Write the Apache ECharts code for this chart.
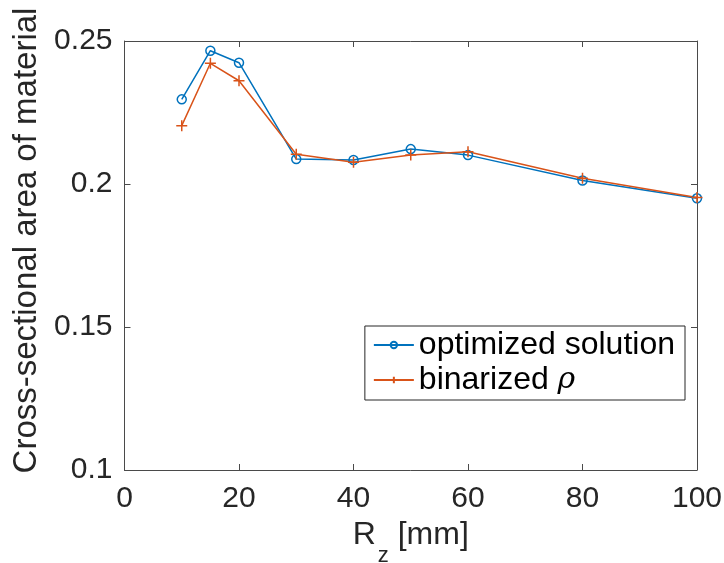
<!DOCTYPE html>
<html><head><meta charset="utf-8">
<script src="https://cdn.jsdelivr.net/npm/echarts@6/dist/echarts.min.js"></script>
<style>html,body{margin:0;padding:0;background:#fff}#c{width:724px;height:563px}</style>
</head><body><div id="c"></div>
<script>
var rz = [10, 15, 20, 30, 40, 50, 60, 80, 100];
var optimized = [0.2296, 0.2466, 0.2424, 0.2087, 0.2084, 0.2122, 0.2101, 0.2012, 0.1950];
var binarized = [0.2204, 0.2422, 0.2361, 0.2104, 0.2076, 0.2101, 0.2113, 0.2020, 0.1953];
var xTicks = [0, 20, 40, 60, 80, 100];
var yTicks = [0.1, 0.15, 0.2, 0.25];

var FONT = '"Liberation Sans", Arial, sans-serif';
var AX = '#262626';
var AXL = '#4a4a4a';
var BLUE = '#0072BD', ORANGE = '#D95319';
var plus = 'path://M0,5L10,5M5,0L5,10';
function pairs(xs, ys){ return xs.map(function(x,i){ return [x, ys[i]]; }); }

var chart = echarts.init(document.getElementById('c'), null, {renderer:'canvas'});
var axisBase = {
  axisLine:{show:true, onZero:false, lineStyle:{color:AXL, width:1}},
  axisTick:{show:true, inside:true, length:6, lineStyle:{color:AXL, width:1}},
  splitLine:{show:false}
};
chart.setOption({
  animation:false,
  backgroundColor:'#fff',
  grid:{left:124.5, right:27, top:41, bottom:93, containLabel:false, outerBoundsMode:'none'},
  legend:{
    show:true, right:39, top:326, orient:'vertical',
    backgroundColor:'#fff', borderColor:AX, borderWidth:1, padding:[3,10,4,8],
    itemWidth:40, itemHeight:8, itemGap:3,
    data:['optimized solution', 'binarized ρ'],
    formatter:function(n){ return n === 'binarized ρ' ? 'binarized {r|ρ}' : n; },
    textStyle:{fontFamily:FONT, fontSize:32, color:'#000', padding:[0,0,0,0],
      rich:{r:{fontFamily:'"DejaVu Serif", serif', fontStyle:'italic', fontSize:30, color:'#000'}}}
  },
  xAxis:[
    Object.assign({}, axisBase, {
      type:'value', position:'bottom', min:0, max:100, interval:20,
      axisLabel:{show:true, color:AX, fontFamily:FONT, fontSize:30, margin:14,
        formatter:function(v){ return xTicks.indexOf(v) >= 0 ? String(v) : ''; }},
      name:'R{s|z} [mm]', nameLocation:'middle', nameGap:30,
      nameTextStyle:{color:AX, fontFamily:FONT, fontSize:32, verticalAlign:'top',
        rich:{s:{fontFamily:FONT, fontSize:22, color:AX, padding:[42,0,0,2]}}}
    }),
    Object.assign({}, axisBase, {
      type:'value', position:'top', min:0, max:100, interval:20,
      axisLabel:{show:false}
    })
  ],
  yAxis:[
    Object.assign({}, axisBase, {
      type:'value', position:'left', min:0.1, max:0.25, interval:0.05,
      axisLabel:{show:true, color:AX, fontFamily:FONT, fontSize:30, margin:12,
        formatter:function(v){ var r = Math.round(v*100)/100; return yTicks.indexOf(r) >= 0 ? String(r) : ''; }},
      name:'Cross-sectional area of material', nameLocation:'middle', nameGap:80,
      nameTextStyle:{color:AX, fontFamily:FONT, fontSize:33, padding:[0,0,0,30]}
    }),
    Object.assign({}, axisBase, {
      type:'value', position:'right', min:0.1, max:0.25, interval:0.05,
      axisLabel:{show:false}
    })
  ],
  series:[
    {name:'optimized solution', type:'line', data:pairs(rz, optimized),
     symbol:'circle', symbolSize:9, showAllSymbol:true,
     lineStyle:{color:BLUE, width:1.5},
     itemStyle:{color:'transparent', borderColor:BLUE, borderWidth:1.5}},
    {name:'binarized ρ', type:'line', data:pairs(rz, binarized),
     symbol:plus, symbolSize:11, showAllSymbol:true,
     lineStyle:{color:ORANGE, width:1.5},
     itemStyle:{color:'transparent', borderColor:ORANGE, borderWidth:1.5}}
  ]
});
</script></body></html>
